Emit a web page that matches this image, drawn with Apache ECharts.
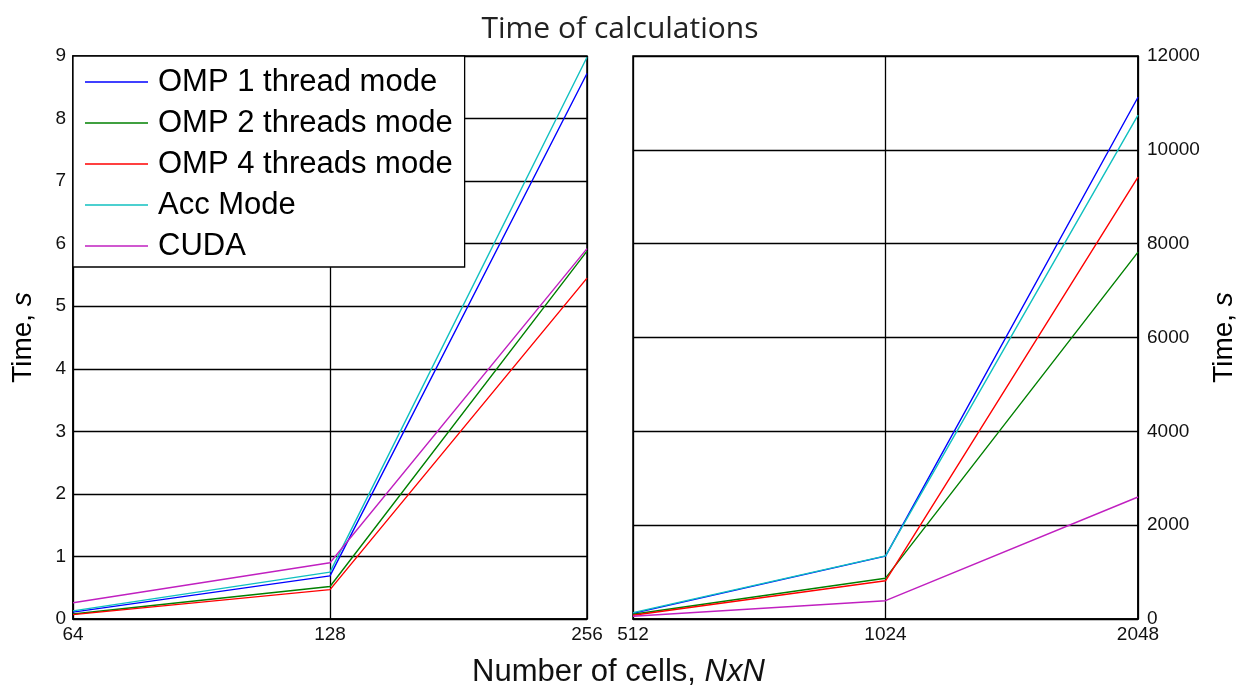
<!DOCTYPE html>
<html><head><meta charset="utf-8">
<script src="https://cdn.jsdelivr.net/npm/echarts@6/dist/echarts.min.js"></script>
<style>html,body{margin:0;padding:0;background:#fff}#c{width:1240px;height:686px}</style>
</head><body><div id="c"></div>
<script>
const seriesNames = ['OMP 1 thread mode','OMP 2 threads mode','OMP 4 threads mode','Acc Mode','CUDA'];
const colors = ['#0000ff','#008000','#ff0000','#10c0c0','#c020c0'];
const catsLeft = ['64','128','256'];
const catsRight = ['512','1024','2048'];
const omp1Left = [0.11, 0.69, 8.72];
const omp2Left = [0.08, 0.52, 5.88];
const omp4Left = [0.07, 0.47, 5.45];
const accLeft  = [0.13, 0.75, 8.98];
const cudaLeft = [0.26, 0.90, 5.92];
const omp1Right = [120, 1340, 11120];
const omp2Right = [100, 870, 7820];
const omp4Right = [80, 815, 9420];
const accRight  = [135, 1345, 10740];
const cudaRight = [60, 390, 2600];
const leftTicks = {min:0, max:9, interval:1};
const rightTicks = {min:0, max:12000, interval:2000};

const leftData = [omp1Left, omp2Left, omp4Left, accLeft, cudaLeft];
const rightData = [omp1Right, omp2Right, omp4Right, accRight, cudaRight];

const font = '"Liberation Sans", Arial, sans-serif';
const series = [];
seriesNames.forEach((n,i)=>{
  series.push({name:n,type:'line',xAxisIndex:0,yAxisIndex:0,data:leftData[i],symbol:'none',lineStyle:{color:colors[i],width:1.4},itemStyle:{color:colors[i]},animation:false,z:2});
});
seriesNames.forEach((n,i)=>{
  series.push({name:n,type:'line',xAxisIndex:1,yAxisIndex:1,data:rightData[i],symbol:'none',lineStyle:{color:colors[i],width:1.4},itemStyle:{color:colors[i]},animation:false,z:2});
});
const axisLineBlack = {show:true,lineStyle:{color:'#000',width:1.5}};
const nameRich = {rich:{a:{fontFamily:font,fontSize:28,color:'#000'},b:{fontFamily:font,fontSize:28,fontStyle:'italic',color:'#000'}}};
const chart = echarts.init(document.getElementById('c'));
chart.setOption({
  animation:false,
  backgroundColor:'#fff',
  title:[
    {text:'Time of calculations',left:'center',top:9,textStyle:{fontFamily:'"Open Sans", sans-serif',fontSize:30,fontWeight:'normal',color:'#222'}},
    {text:'{a|Number of cells, }{b|NxN}',left:467,top:652,textStyle:{rich:{a:{fontFamily:font,fontSize:31,fontWeight:'normal',color:'#111'},b:{fontFamily:font,fontSize:31,fontWeight:'normal',fontStyle:'italic',color:'#111'}}}}
  ],
  grid:[
    {left:73,right:653,top:56,bottom:67,show:true,borderColor:'#000',borderWidth:1.5,backgroundColor:'#fff'},
    {left:633,right:102,top:56,bottom:67,show:true,borderColor:'#000',borderWidth:1.5,backgroundColor:'#fff'}
  ],
  legend:{
    data:seriesNames.map(n=>({name:n,icon:'rect'})),orient:'vertical',left:73,top:56,
    padding:[9,12,4,12],itemGap:7,itemWidth:63,itemHeight:1.6,
    backgroundColor:'#fff',borderColor:'#000',borderWidth:1.3,borderRadius:0,
    textStyle:{fontFamily:font,fontSize:31,color:'#000',lineHeight:34,padding:[0,0,0,5]},
    z:10
  },
  xAxis:[
    {gridIndex:0,type:'category',data:catsLeft,boundaryGap:false,axisLine:axisLineBlack,axisTick:{show:false},
     axisLabel:{fontFamily:font,fontSize:19,color:'#111',margin:6,showMinLabel:true,showMaxLabel:true,interval:0},
     splitLine:{show:true,lineStyle:{color:'#000',width:1.3}}},
    {gridIndex:1,type:'category',data:catsRight,boundaryGap:false,axisLine:axisLineBlack,axisTick:{show:false},
     axisLabel:{fontFamily:font,fontSize:19,color:'#111',margin:6,showMinLabel:true,showMaxLabel:true,interval:0},
     splitLine:{show:true,lineStyle:{color:'#000',width:1.3}}}
  ],
  yAxis:[
    {gridIndex:0,type:'value',min:leftTicks.min,max:leftTicks.max,interval:leftTicks.interval,position:'left',
     axisLine:axisLineBlack,axisTick:{show:false},
     axisLabel:{fontFamily:font,fontSize:19,color:'#111',margin:7,formatter:v=>String(v)},
     splitLine:{show:true,lineStyle:{color:'#000',width:1.3}},
     name:'{a|Time, }{b|s}',nameLocation:'middle',nameGap:36,nameRotate:90,nameTextStyle:nameRich},
    {gridIndex:1,type:'value',min:rightTicks.min,max:rightTicks.max,interval:rightTicks.interval,position:'right',
     axisLine:axisLineBlack,axisTick:{show:false},
     axisLabel:{fontFamily:font,fontSize:19,color:'#111',margin:9,formatter:v=>String(v)},
     splitLine:{show:true,lineStyle:{color:'#000',width:1.3}},
     name:'{a|Time, }{b|s}',nameLocation:'middle',nameGap:72,nameRotate:90,nameTextStyle:nameRich}
  ],
  series:series
});
</script></body></html>
